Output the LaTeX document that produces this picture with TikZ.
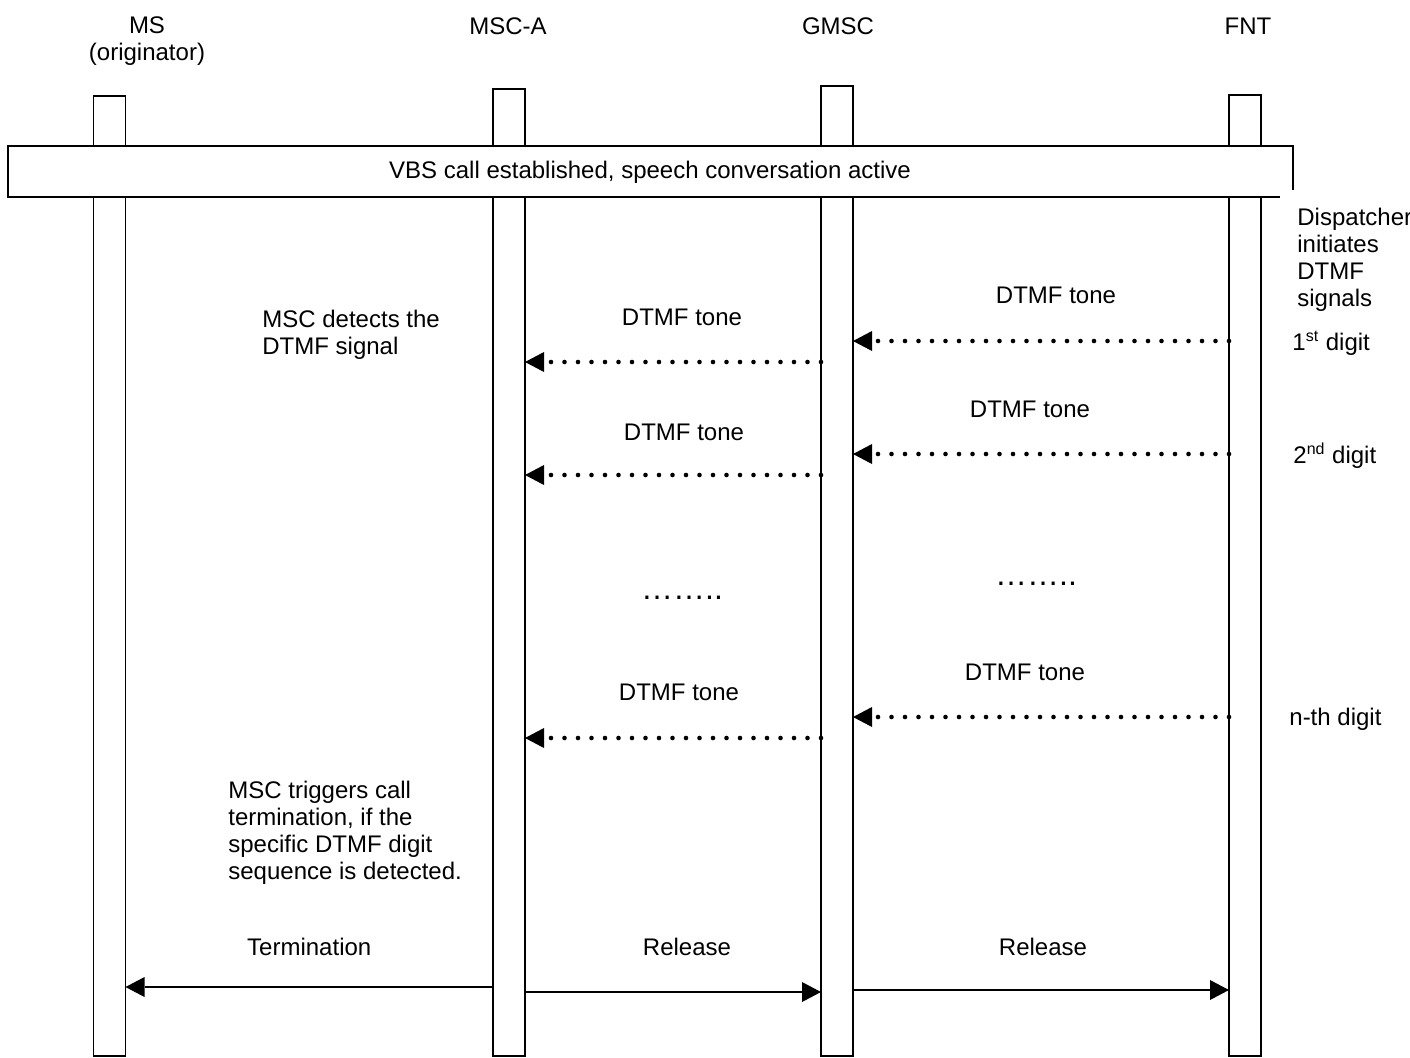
\documentclass[tikz,border=0pt]{standalone}
\usepackage{fontspec}
\setmainfont{Liberation Sans}
\usetikzlibrary{arrows.meta}
\begin{document}
\begin{tikzpicture}[x=0.5pt,y=-0.5pt,>={Triangle[length=9.5pt,width=10pt,line width=0pt]},
lifeline/.style={draw,line width=0.8pt,fill=white,minimum width=16pt,inner sep=0pt,outer sep=0pt},
lbl/.style={font=\fontsize{12pt}{13.5pt}\selectfont,inner sep=0pt},
tone/.style={->,line width=2.3pt,line cap=round,dash pattern=on 0pt off 6.75pt},
msg/.style={->,line width=1pt}]
\useasboundingbox (0,0) rectangle (1410,1057);
\node[lifeline,minimum height=480pt] (ms) at (109.5,576) {};
\node[lifeline,minimum height=483.5pt] (msca) at (509,572.5) {};
\node[lifeline,minimum height=485pt] (gmsc) at (837,571) {};
\node[lifeline,minimum height=480.5pt] (fnt) at (1245,575.5) {};
\node[lbl,align=center,anchor=north] (hms) at (147,16) {MS\\(originator)};
\node[lbl,anchor=base] (hmsca) at (508,34) {MSC-A};
\node[lbl,anchor=base] (hgmsc) at (838,34) {GMSC};
\node[lbl,anchor=base] (hfnt) at (1248,34) {FNT};
\fill[white] (8,146) rectangle (1293,197);
\draw[line width=0.8pt] (1280,197) -- (8,197) -- (8,146) -- (1293,146) -- (1293,190);
\node[lbl,anchor=base] (vbs) at (650,178) {VBS call established, speech conversation active};
\node[lbl,align=left,anchor=north west] (disp) at (1297,208) {Dispatcher\\initiates\\DTMF\\signals};
\node[lbl,anchor=base west] (dig1) at (1292,350) {1\textsuperscript{st} digit};
\node[lbl,anchor=base west] (dig2) at (1293,463) {2\textsuperscript{nd} digit};
\node[lbl,anchor=base west] (dign) at (1289,725) {n-th digit};
\node[lbl,align=left,anchor=north west] (detect) at (262,310) {MSC detects the\\DTMF signal};
\node[lbl,align=left,anchor=north west] (trig) at (228,781) {MSC triggers call\\termination, if the\\specific DTMF digit\\sequence is detected.};
\node[lbl,font=\fontsize{16pt}{18pt}\selectfont,anchor=base] (more1) at (682,599) {……..};
\node[lbl,font=\fontsize{16pt}{18pt}\selectfont,anchor=base] (more2) at (1036,585) {……..};
\draw[tone] (fnt.west |- 0,341) -- (gmsc.east |- 0,341) node[lbl,midway,above=17.5pt,xshift=7.5pt] {DTMF tone};
\draw[tone] (gmsc.west |- 0,362) -- (msca.east |- 0,362) node[lbl,midway,above=17pt,xshift=4.5pt] {DTMF tone};
\draw[tone] (fnt.west |- 0,454) -- (gmsc.east |- 0,454) node[lbl,midway,above=17pt,xshift=-5.5pt] {DTMF tone};
\draw[tone] (gmsc.west |- 0,475) -- (msca.east |- 0,475) node[lbl,midway,above=15.75pt,xshift=5.5pt] {DTMF tone};
\draw[tone] (fnt.west |- 0,717) -- (gmsc.east |- 0,717) node[lbl,midway,above=17pt,xshift=-8pt] {DTMF tone};
\draw[tone] (gmsc.west |- 0,738) -- (msca.east |- 0,738) node[lbl,midway,above=17.5pt,xshift=3pt] {DTMF tone};
\draw[msg] (msca.west |- 0,987) -- (ms.east |- 0,987) node[lbl,midway,above=15pt] {Termination};
\draw[msg] (msca.east |- 0,992) -- (gmsc.west |- 0,992) node[lbl,midway,above=17.5pt,xshift=7pt] {Release};
\draw[msg] (gmsc.east |- 0,990) -- (fnt.west |- 0,990) node[lbl,midway,above=16.5pt,xshift=1pt] {Release};
\end{tikzpicture}
\end{document}
